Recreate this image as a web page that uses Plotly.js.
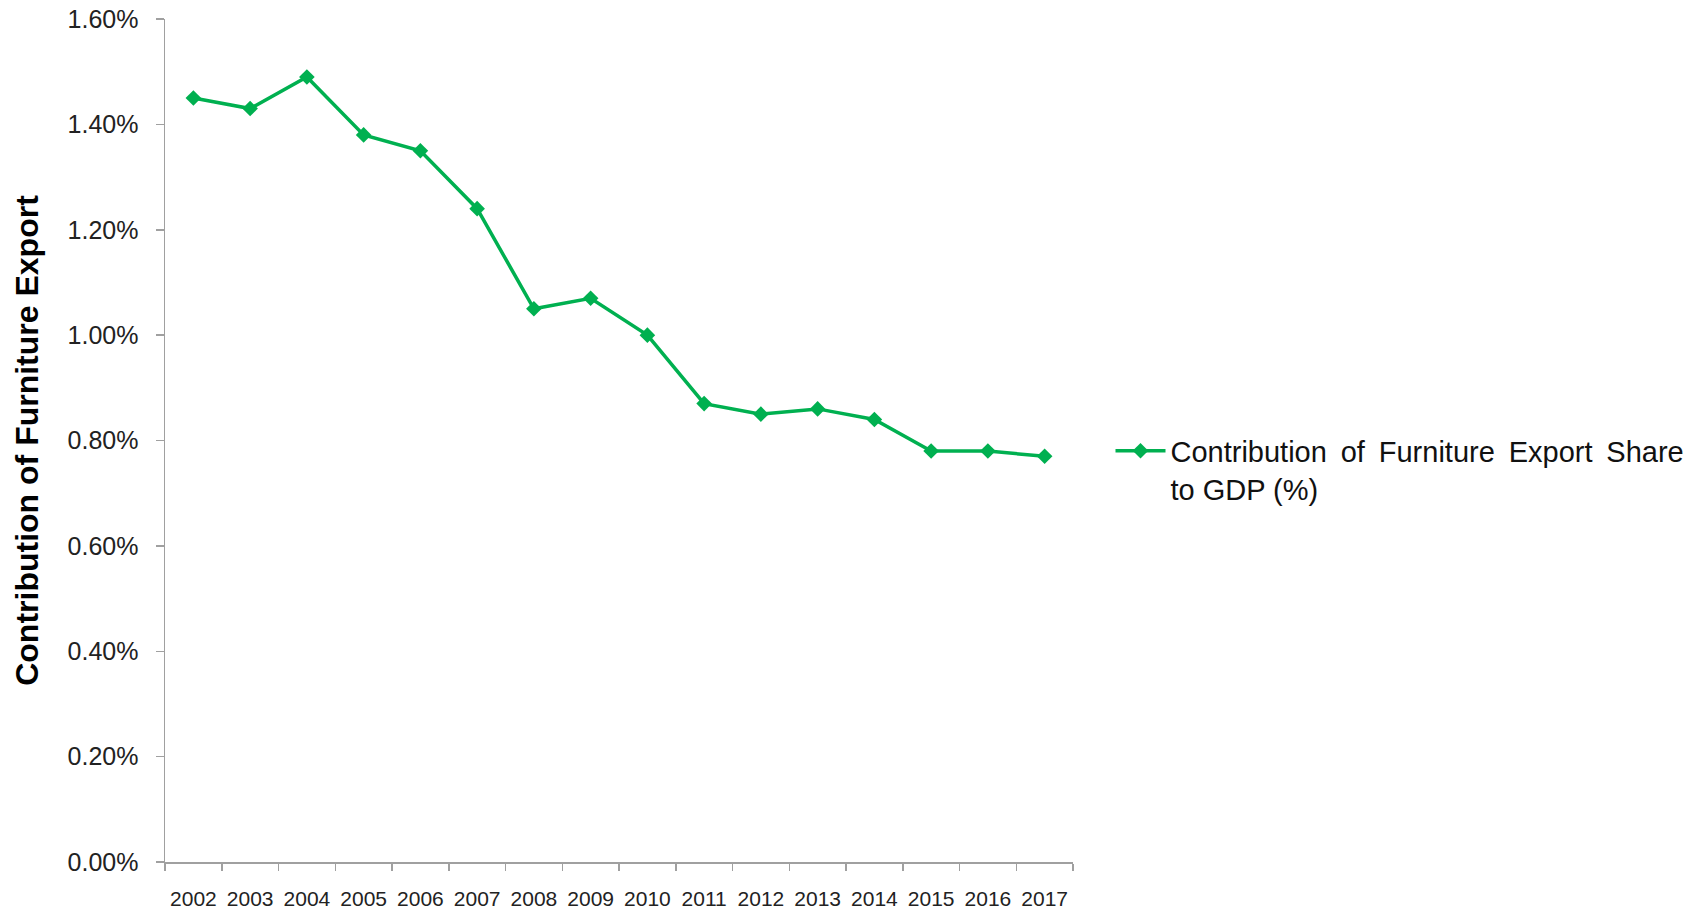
<!DOCTYPE html>
<html>
<head>
<meta charset="utf-8">
<script src="https://cdn.plot.ly/plotly-3.0.1.min.js"></script>
<style>
  html, body { margin: 0; padding: 0; background: #ffffff; }
  #chart { width: 1702px; height: 911px; }
</style>
</head>
<body>
<div id="chart"></div>
<script>
const years = ["2002","2003","2004","2005","2006","2007","2008","2009","2010","2011","2012","2013","2014","2015","2016","2017"];
const shareToGDP = [1.45, 1.43, 1.49, 1.38, 1.35, 1.24, 1.05, 1.07, 1.00, 0.87, 0.85, 0.86, 0.84, 0.78, 0.78, 0.77];
const seriesName = "Contribution\u2009 of\u2009 Furniture\u2009 Export\u2009 Share<br>to GDP (%)";
const yTitle = "Contribution of Furniture Export";

const FONT = "Liberation Sans, Arial, Helvetica, sans-serif";
const GREEN = "#00B050";

const trace = {
  x: years,
  y: shareToGDP,
  type: "scatter",
  mode: "lines+markers",
  name: seriesName,
  line: { color: GREEN, width: 3.5 },
  marker: { symbol: "diamond", size: 12, color: GREEN }
};

const layout = {
  width: 1702,
  height: 911,
  paper_bgcolor: "#ffffff",
  plot_bgcolor: "#ffffff",
  margin: { l: 165, r: 629, t: 19, b: 49, pad: 0 },
  font: { family: FONT, color: "#222222" },
  showlegend: true,
  legend: {
    x: 1.0413,
    xanchor: "left",
    y: 0.518,
    yanchor: "top",
    valign: "top",
    itemwidth: 50,
    font: { family: FONT, size: 29, color: "#111111" },
    bgcolor: "rgba(0,0,0,0)",
    borderwidth: 0
  },
  xaxis: {
    type: "category",
    range: [-0.5, 15.5],
    tickson: "boundaries",
    ticks: "outside",
    ticklen: 7,
    tickwidth: 1.5,
    tickcolor: "#a0a0a0",
    showline: true,
    linecolor: "#a0a0a0",
    linewidth: 1.5,
    showgrid: false,
    zeroline: false,
    ticklabelstandoff: 17,
    tickfont: { family: FONT, size: 21, color: "#222222" },
    fixedrange: true
  },
  yaxis: {
    range: [0, 1.6],
    dtick: 0.2,
    tick0: 0,
    tickformat: ".2f",
    ticksuffix: "%",
    ticks: "outside",
    ticklen: 8,
    tickwidth: 1.5,
    tickcolor: "#a0a0a0",
    showline: true,
    linecolor: "#a0a0a0",
    linewidth: 1.5,
    showgrid: false,
    zeroline: false,
    ticklabelstandoff: 12,
    tickfont: { family: FONT, size: 25, color: "#222222" },
    title: {
      text: yTitle,
      font: { family: FONT, size: 32, color: "#000000", weight: "bold" },
      standoff: 19
    },
    fixedrange: true
  }
};

Plotly.newPlot("chart", [trace], layout, { staticPlot: true, displayModeBar: false });
</script>
</body>
</html>
